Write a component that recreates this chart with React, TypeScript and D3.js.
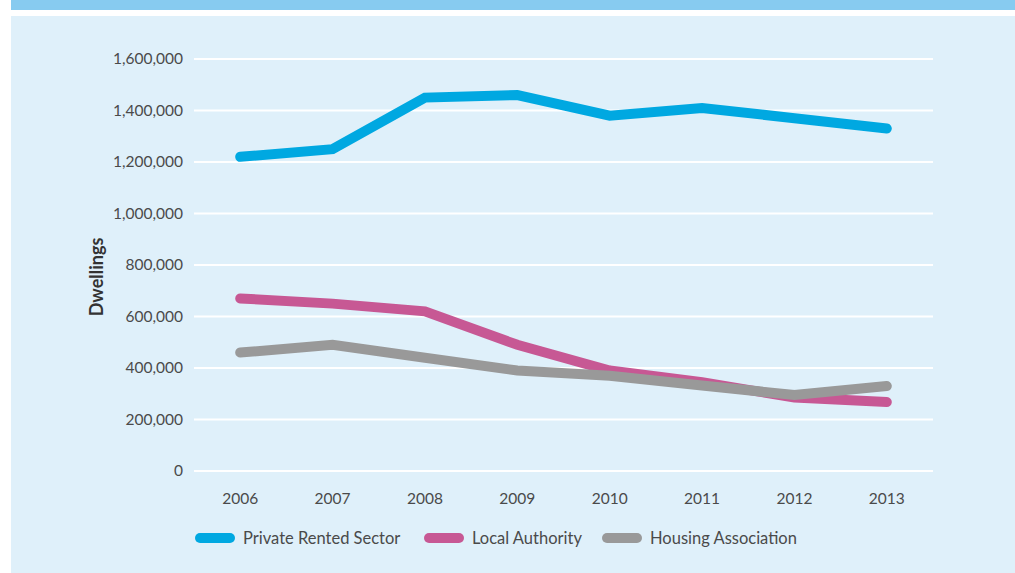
import React from "react";
import * as d3 from "d3";

const years = ["2006", "2007", "2008", "2009", "2010", "2011", "2012", "2013"];
const privateRented = [1220000, 1250000, 1450000, 1460000, 1380000, 1410000, 1370000, 1330000];
const localAuthority = [670000, 650000, 620000, 490000, 390000, 345000, 285000, 268000];
const housingAssoc = [460000, 490000, 440000, 390000, 370000, 332000, 295000, 330000];
const yTicks = [0, 200000, 400000, 600000, 800000, 1000000, 1200000, 1400000, 1600000];

const seriesNames = ["Private Rented Sector", "Local Authority", "Housing Association"];
const seriesColors = ["#00a8e1", "#c75894", "#999999"];
const seriesValues = [privateRented, localAuthority, housingAssoc];

export default function App() {
  const W = 1015, H = 573;
  const x = d3.scalePoint<string>().domain(years).range([194, 933]).padding(0.5);
  const y = d3.scaleLinear().domain([0, 1600000]).range([471, 59]);
  const fmt = d3.format(",");
  const line = d3
    .line<number>()
    .x((_, i) => x(years[i]) as number)
    .y((d) => y(d));
  const font = "Lato, 'Open Sans', sans-serif";
  const textColor = "#4a4a4a";
  const legendX = [195, 424, 602];

  return (
    <svg width={W} height={H} style={{ position: "absolute", left: 0, top: 0 }}>
      <rect x={0} y={0} width={W} height={H} fill="#ffffff" />
      <rect x={11} y={0} width={W - 11} height={10} fill="#87cbf0" />
      <rect x={11} y={16} width={W - 11} height={H - 16} fill="#dff0fa" />
      {yTicks.map((t) => (
        <g key={t}>
          <line x1={194} x2={933} y1={y(t)} y2={y(t)} stroke="#ffffff" strokeWidth={2} />
          <text
            x={183}
            y={y(t)}
            dy="0.35em"
            textAnchor="end"
            fontFamily={font}
            fontSize={15.5}
            fill={textColor}
          >
            {fmt(t)}
          </text>
        </g>
      ))}
      {years.map((yr) => (
        <text
          key={yr}
          x={x(yr)}
          y={499}
          dy="0.35em"
          textAnchor="middle"
          fontFamily={font}
          fontSize={15.5}
          fill={textColor}
        >
          {yr}
        </text>
      ))}
      <text
        transform="translate(97,277) rotate(-90)"
        textAnchor="middle"
        dy="0.35em"
        fontFamily={font}
        fontSize={18}
        fontWeight="bold"
        fill="#333333"
      >
        Dwellings
      </text>
      {seriesValues.map((vals, i) => (
        <path
          key={seriesNames[i]}
          d={line(vals) || ""}
          fill="none"
          stroke={seriesColors[i]}
          strokeWidth={10}
          strokeLinecap="round"
          strokeLinejoin="miter"
        />
      ))}
      {seriesNames.map((name, i) => (
        <g key={name}>
          <line
            x1={legendX[i] + 5}
            x2={legendX[i] + 35}
            y1={538}
            y2={538}
            stroke={seriesColors[i]}
            strokeWidth={10}
            strokeLinecap="round"
          />
          <text
            x={legendX[i] + 48}
            y={538}
            dy="0.35em"
            fontFamily={font}
            fontSize={16.5}
            fill={textColor}
          >
            {name}
          </text>
        </g>
      ))}
    </svg>
  );
}
